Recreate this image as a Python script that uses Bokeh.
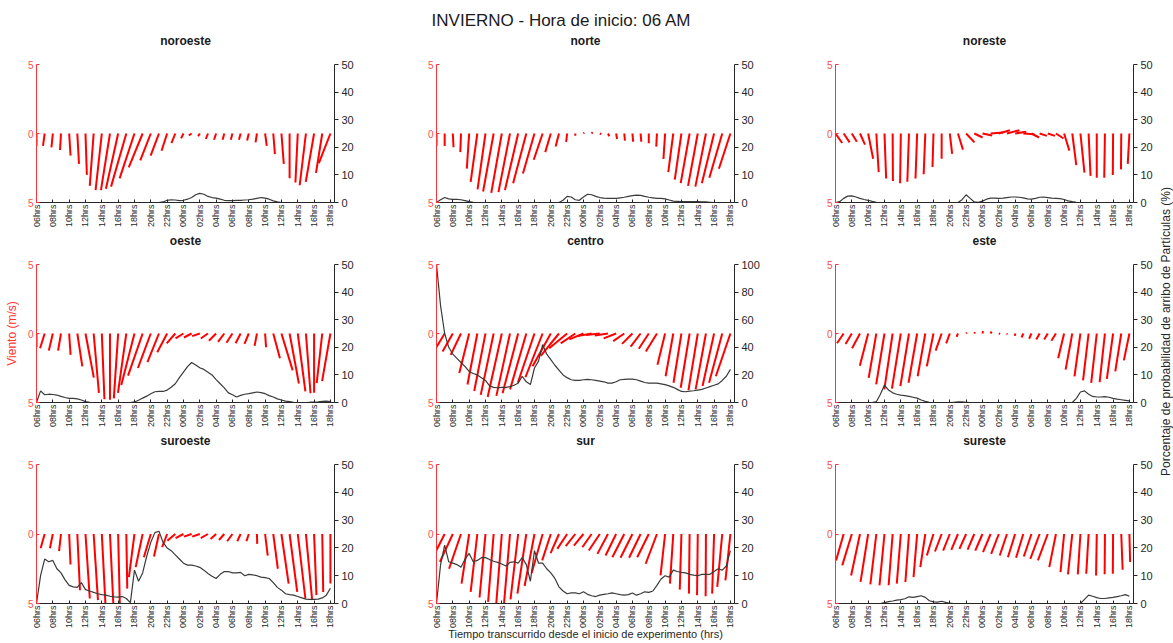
import math
import numpy as np
from bokeh.plotting import figure
from bokeh.models import Range1d, LinearAxis, FixedTicker
from bokeh.layouts import gridplot, row, column
from bokeh.embed import file_html
from bokeh.resources import INLINE

FONT = "Liberation Sans"
RED = "#ff0000"
INK = "#262626"

# hourly wind sticks (hours since 06:00) and half-hourly arrival probability
HOURS = list(range(37))
HALF_HOURS = [h / 2 for h in range(73)]
TICK_HOURS = list(range(0, 37, 2))
TICK_LABELS = ["06hrs", "08hrs", "10hrs", "12hrs", "14hrs", "16hrs", "18hrs", "20hrs", "22hrs",
               "00hrs", "02hrs", "04hrs", "06hrs", "08hrs", "10hrs", "12hrs", "14hrs", "16hrs", "18hrs"]

# wind components (m/s): U = zonal, V = meridional; P = probability (%)
NOROESTE_U = [0.0, -0.12, -0.1, -0.07, 0.1, 0.12, 0.1, -0.28, -0.45, -0.65, -0.88, -1.1, -1.07, -1.0, -0.76,
              -0.6, -0.4, -0.28, -0.17, -0.2, -0.12, -0.15, -0.15, -0.12, -0.12, -0.12, -0.12, -0.1, 0.12,
              0.12, 0.17, 0.0, -0.17, -0.45, -0.6, -0.45, -0.83]
NOROESTE_V = [-0.9, -0.9, -1.0, -1.2, -1.6, -2.2, -3.0, -3.8, -4.1, -4.1, -4.0, -3.85, -3.25, -2.45, -1.95,
              -1.6, -1.25, -0.7, -0.35, -0.15, -0.2, -0.4, -0.45, -0.45, -0.45, -0.45, -0.5, -0.65, -0.9,
              -1.5, -2.2, -3.25, -3.55, -3.75, -3.5, -2.85, -2.15]
NOROESTE_P = [0, 0, 0, 0, 0, 0, 0, 0, 0, 0, 0, 0, 0, 0, 0, 0, 0, 0, 0, 0, 0, 0, 0, 0, 0, 0, 0, 0, 0, 0, 0,
              0.2, 0.8, 1.0, 0.9, 0.7, 0.8, 1.2, 1.8, 2.8, 3.3, 3.0, 2.2, 1.8, 1.6, 1.2, 0.8, 0.7, 0.7, 0.8,
              0.8, 0.9, 1.0, 1.2, 1.5, 1.8, 1.6, 1.2, 0.6, 0.2,
              0, 0, 0, 0, 0, 0, 0, 0, 0, 0, 0, 0, 0]

NORTE_U = [0.0, 0.0, 0.05, -0.05, -0.17, -0.48, -0.57, -0.76, -0.76, -0.83, -0.95, -0.95, -0.83, -0.64, -0.4,
           -0.24, -0.07, 0.0, 0.05, 0.07, 0.1, 0.1, 0.07, 0.05, 0.05, 0.05, 0.0, -0.05, -0.12, -0.36, -0.48,
           -0.64, -0.7, -0.76, -0.88, -0.93, -0.83]
NORTE_V = [-0.9, -0.9, -1.0, -1.35, -2.55, -3.5, -4.05, -4.2, -4.3, -4.25, -4.1, -3.6, -2.9, -1.9, -1.35,
           -0.95, -0.6, -0.17, 0.07, 0.1, -0.05, -0.2, -0.4, -0.52, -0.6, -0.6, -0.7, -0.95, -1.85, -2.8,
           -3.35, -3.6, -3.8, -3.85, -3.6, -3.2, -2.55]
NORTE_P = [0, 1.0, 1.8, 1.3, 1.1, 1.1, 1.0, 0.7, 0.3, 0.1,
           0, 0, 0, 0, 0, 0, 0, 0, 0, 0, 0, 0, 0, 0, 0, 0, 0, 0, 0, 0, 0,
           0.8, 2.2, 2.0, 1.0, 0.8, 2.0, 3.0, 2.8, 2.2, 1.8, 1.6, 1.5, 1.5, 1.5, 1.7, 1.9, 2.2, 2.5, 2.7,
           2.6, 2.2, 1.9, 1.7, 1.5, 1.5, 1.3, 0.9, 0.5, 0.4, 0.3, 0.3, 0.3, 0.3, 0.3, 0.2, 0.2, 0.1,
           0, 0, 0, 0, 0]

NORESTE_U = [0.48, 0.43, 0.36, 0.36, 0.36, 0.17, 0.12, 0.02, -0.05, -0.12, -0.12, -0.12, -0.07, 0.0, 0.17,
             0.36, 0.6, 0.6, 0.7, 0.9, 0.8, 0.9, 0.8, 0.8, 0.55, 0.52, 0.52, 0.55, 0.38, 0.29, 0.29, 0.14,
             0.0, -0.05, -0.02, -0.02, -0.12]
NORESTE_V = [-0.69, -0.64, -0.6, -0.8, -1.83, -2.8, -3.26, -3.45, -3.6, -3.5, -3.26, -2.95, -2.43, -1.83,
             -1.48, -1.17, -0.64, -0.29, -0.15, 0.07, 0.24, 0.24, 0.12, -0.05, -0.29, -0.17, -0.17, -0.36,
             -1.24, -2.3, -2.83, -3.07, -3.2, -3.2, -3.0, -2.6, -2.2]
NORESTE_P = [0, 0.3, 1.5, 2.3, 2.4, 2.0, 1.5, 1.1, 0.8, 0.4, 0.1,
             0, 0, 0, 0, 0, 0, 0, 0, 0, 0, 0, 0, 0, 0, 0, 0, 0, 0, 0, 0,
             1.0, 2.8, 1.5, 0.2, 0.1, 0.5, 1.2, 1.6, 1.6, 1.5, 1.6, 1.8, 2.0, 2.0, 1.9, 1.7, 1.3, 1.2,
             1.5, 1.9, 2.0, 1.8, 1.6, 1.5, 1.4, 1.1, 0.6, 0.3, 0.1,
             0, 0, 0, 0, 0, 0, 0, 0, 0, 0, 0, 0, 0]

OESTE_U = [0.0, -0.33, -0.29, -0.21, 0.1, 0.36, 0.6, 0.38, 0.19, 0.0, -0.31, -0.6, -0.95, -1.05, -0.93,
           -0.83, -0.71, -0.62, -0.57, -0.55, -0.55, -0.52, -0.52, -0.45, -0.43, -0.36, -0.31, -0.17, 0.07,
           0.48, 0.81, 0.67, 0.55, 0.33, 0.0, -0.4, -0.6]
OESTE_V = [-1.0, -1.07, -1.24, -1.24, -1.55, -2.38, -3.2, -4.3, -4.76, -4.8, -4.7, -4.3, -3.74, -3.05, -2.5,
           -2.07, -1.36, -0.71, -0.36, -0.29, -0.19, -0.36, -0.52, -0.6, -0.67, -0.71, -0.76, -0.9, -1.0,
           -1.79, -2.67, -3.62, -4.2, -4.33, -4.29, -3.6, -3.45]
OESTE_P = [0, 4.2, 2.8, 3.0, 2.9, 2.7, 2.2, 1.8, 1.5, 1.5, 1.3, 0.9, 0.3, 0.1,
           0, 0, 0, 0, 0, 0, 0, 0, 0, 0,
           0.2, 0.8, 1.6, 2.3, 3.2, 3.9, 4.0, 4.0, 4.5, 5.5, 6.8, 9.0, 11.0, 13.0, 14.5, 13.6, 12.6, 12.0,
           11.0, 10.0, 8.3, 6.8, 5.3, 3.5, 2.8, 2.0, 2.6, 3.0, 3.2, 3.5, 3.8, 3.6, 3.2, 2.5, 2.0, 1.3,
           0.9, 0.5, 0.3, 0.1,
           0, 0, 0, 0.1, 0.1, 0.2, 0.4, 0.5, 0.3]

CENTRO_U = [-0.6, -0.64, -0.74, -0.74, -0.71, -0.71, -0.81, -0.93, -1.02, -0.98, -1.12, -1.17, -1.2, -1.24,
            -1.31, -1.31, -1.29, -1.05, -1.02, -1.02, -1.0, -0.95, -0.9, -0.8, -0.75, -0.72, -0.72, -0.8,
            -0.55, -0.55, -0.57, -0.64, -0.67, -0.74, -0.83, -0.95, -1.05]
CENTRO_V = [-1.0, -1.07, -1.31, -1.55, -2.86, -3.7, -4.17, -4.45, -4.6, -4.52, -4.33, -4.05, -3.57, -3.17,
            -2.38, -1.62, -1.07, -0.71, -0.43, -0.19, -0.1, -0.14, -0.35, -0.55, -0.75, -0.95, -1.1, -1.3,
            -2.26, -3.1, -3.57, -3.93, -4.1, -4.05, -3.8, -3.57, -3.1]
CENTRO_P = [100, 70, 50, 40, 35, 32, 29, 26, 22.5, 21, 20, 18, 16, 12, 11, 10.7, 11, 11, 11.5, 12.5, 14,
            19, 15, 13, 25, 30, 42, 35, 31, 27, 23.5, 20, 18, 16.5, 16, 16, 16.5, 16.7, 16.5, 16, 15.5,
            15, 14, 14, 15, 16.5, 16.8, 17, 17, 16.5, 15.5, 14.5, 14, 14, 14, 13.5, 13, 12, 11, 9.5, 8,
            7.8, 8.3, 8.5, 9, 9.5, 10.5, 11.5, 12.5, 13.5, 16, 19, 24]

ESTE_U = [-0.3, -0.48, -0.45, -0.57, -0.6, -0.55, -0.6, -0.6, -0.64, -0.62, -0.62, -0.55, -0.48, -0.43,
          -0.26, -0.1, 0.05, 0.05, 0.05, 0.07, 0.1, 0.02, -0.02, -0.12, -0.17, -0.24, -0.26, -0.33, -0.43,
          -0.48, -0.43, -0.4, -0.4, -0.38, -0.45, -0.43, -0.4]
ESTE_V = [-0.7, -0.71, -0.76, -1.07, -2.33, -3.21, -3.69, -4.05, -4.0, -3.81, -3.57, -3.1, -2.38, -1.24,
          -0.71, -0.24, 0.07, 0.1, 0.17, 0.14, -0.03, -0.07, -0.17, -0.29, -0.38, -0.43, -0.43, -0.52,
          -1.79, -2.62, -3.1, -3.4, -3.57, -3.52, -3.29, -2.74, -1.95]
ESTE_P = [0, 0, 0, 0, 0, 0, 0, 0, 0, 0,
          0.3, 3.0, 6.3, 4.5, 3.5, 3.0, 2.7, 2.5, 2.2, 1.9, 1.6, 0.9, 0.4, 0.1,
          0, 0, 0, 0, 0, 0.1, 0.2, 0.2, 0.1,
          0, 0, 0, 0, 0, 0, 0, 0, 0, 0, 0, 0, 0, 0, 0, 0, 0, 0, 0, 0, 0, 0, 0, 0, 0, 0,
          1.5, 3.8, 4.2, 3.0, 2.2, 2.0, 2.0, 2.1, 1.9, 1.5, 1.2, 1.0, 0.8, 0.6]

SUROESTE_U = [-0.2, -0.29, -0.21, -0.14, 0.1, 0.19, 0.31, 0.31, 0.26, 0.24, 0.12, 0.07, -0.4, -0.5, -0.5,
              -0.36, -0.36, -0.57, -0.57, -0.55, -0.55, -0.52, -0.4, -0.38, -0.38, -0.24, -0.17, 0.02, 0.19,
              0.33, 0.52, 0.55, 0.55, 0.45, 0.17, 0.07, 0.0]
SUROESTE_V = [-1.0, -1.02, -1.02, -1.24, -2.19, -4.05, -4.64, -4.76, -5.0, -5.0, -5.0, -3.93, -3.1, -2.38,
              -1.67, -1.62, -0.95, -0.48, -0.29, -0.19, -0.19, -0.29, -0.36, -0.43, -0.52, -0.52, -0.52,
              -0.71, -1.55, -2.5, -3.57, -4.17, -4.64, -4.76, -4.4, -4.17, -3.57]
SUROESTE_P = [0, 10, 16, 15, 15.5, 12.5, 11, 8.5, 6.5, 6, 5.8, 7.5, 5, 4.5, 4, 3.5, 3.2, 3, 2.6, 2.4, 2.3,
              2.5, 1.8, 0.3, 12, 8, 11, 17, 22, 25.5, 26, 22, 20, 19, 17.5, 16, 14.5, 13.8, 13.8, 13.5, 13,
              12, 10.8, 9.8, 9, 10.5, 11.5, 11.5, 11, 11, 11.2, 10, 10.5, 10.3, 10, 9.5, 9.3, 9, 7.5, 5.8,
              4.8, 3.5, 3.2, 3, 2.5, 2, 1.6, 1.5, 1.5, 1.6, 2.0, 3, 5.5]

SUR_U = [-0.6, -0.64, -0.93, -0.86, -0.55, -0.48, -0.43, -0.4, -0.4, -0.43, -0.55, -0.64, -0.71, -0.79,
         -0.62, -0.6, -0.71, -0.69, -0.69, -0.67, -0.79, -0.76, -0.76, -0.86, -0.86, -0.83, -0.83, -0.81,
         -0.33, -0.24, -0.12, -0.05, -0.05, -0.02, -0.14, -0.36, -0.36]
SUR_V = [-1.0, -1.26, -2.0, -2.5, -3.57, -4.17, -4.57, -4.88, -5.0, -5.0, -4.7, -4.29, -3.74, -2.81, -1.9,
         -1.38, -1.07, -0.88, -0.83, -0.95, -1.19, -1.43, -1.55, -1.67, -1.71, -1.71, -1.67, -2.14, -2.98,
         -3.57, -4.0, -4.29, -4.4, -4.48, -4.29, -3.81, -3.33]
SUR_P = [0, 14, 21, 15, 14.5, 14, 13, 16, 18, 15, 15.5, 16.5, 16.5, 15.8, 15.2, 14.8, 14.2, 13.5, 14.8, 15,
         14.5, 16.5, 14, 8, 19, 14.5, 14.5, 12.5, 11, 9, 6, 4.5, 3.5, 3.8, 3.8, 3.5, 4.2, 3.3, 2.8, 2.5, 3,
         3.3, 3.5, 3.8, 3.5, 3.2, 3, 3.2, 3.8, 3, 3.5, 4.2, 4, 4.5, 6.5, 8.8, 10, 9.5, 12, 11.5, 11.2, 11,
         10.5, 10.2, 10, 10.5, 10.5, 10.5, 11.5, 12.5, 12, 13.5, 19]

SURESTE_U = [-0.5, -0.55, -0.69, -0.64, -0.55, -0.43, -0.36, -0.29, -0.29, -0.26, -0.26, -0.36, -0.48, -0.48,
             -0.48, -0.48, -0.48, -0.48, -0.52, -0.55, -0.55, -0.52, -0.52, -0.52, -0.55, -0.67, -0.71, -0.48,
             -0.26, -0.31, -0.19, -0.17, -0.05, -0.02, -0.02, 0.1, 0.05]
SURESTE_V = [-0.9, -1.9, -2.26, -2.98, -3.45, -3.62, -3.69, -3.69, -3.57, -3.45, -3.1, -2.38, -1.55, -1.26,
             -1.19, -1.14, -1.07, -1.12, -1.19, -1.31, -1.43, -1.55, -1.67, -1.71, -1.62, -1.79, -1.9, -2.38,
             -2.74, -2.9, -2.9, -2.86, -2.98, -2.9, -2.86, -2.57, -2.02]
SURESTE_P = [0, 0, 0, 0, 0, 0, 0, 0, 0, 0, 0, 0,
             0.3, 0.7, 0.9, 1.2, 1.4, 1.7, 2.4, 2.2, 2.5, 2.8, 2.2, 1.0, 0.6, 0.5, 0.8, 0.4, 0.1,
             0, 0, 0, 0, 0, 0, 0, 0, 0, 0, 0, 0, 0, 0, 0, 0, 0, 0, 0, 0, 0, 0, 0, 0, 0, 0, 0, 0, 0, 0, 0, 0,
             1.5, 3.0, 2.6, 2.1, 1.8, 1.8, 2.0, 2.2, 2.5, 2.8, 3.2, 2.6]

STATIONS = [
    [("noroeste", NOROESTE_U, NOROESTE_V, NOROESTE_P, 50),
     ("norte", NORTE_U, NORTE_V, NORTE_P, 50),
     ("noreste", NORESTE_U, NORESTE_V, NORESTE_P, 50)],
    [("oeste", OESTE_U, OESTE_V, OESTE_P, 50),
     ("centro", CENTRO_U, CENTRO_V, CENTRO_P, 100),
     ("este", ESTE_U, ESTE_V, ESTE_P, 50)],
    [("suroeste", SUROESTE_U, SUROESTE_V, SUROESTE_P, 50),
     ("sur", SUR_U, SUR_V, SUR_P, 50),
     ("sureste", SURESTE_U, SURESTE_V, SURESTE_P, 50)],
]
PCT_TICKS = {50: [0, 10, 20, 30, 40, 50], 100: [0, 20, 40, 60, 80, 100]}

MAIN_TITLE = "INVIERNO - Hora de inicio: 06 AM"
WIND_LABEL = "Viento (m/s)"
PCT_LABEL = "Porcentaje de probabilidad de arribo de Partículas (%)"
TIME_LABEL = "Tiempo transcurrido desde el inicio de experimento (hrs)"

# grid geometry (pixels)
COL_WIDTH = [400, 400, 355]
COL_LEFT = [36, 36, 35]
COL_RIGHT = [66, 66, 21]
ROW_HEIGHT = [200, 200, 213]
ROW_TOP = [33, 33, 33]
ROW_BOTTOM = [26, 27, 40]
HEADER_HEIGHT = 30
STRIP_WIDTH = 18
X_END = 36.5
STICK_SCALE = 1.7  # hours of the time axis per m/s of zonal wind


def bare_axis(text, size, style, standoff, color="#1a1a1a"):
    """An axis with no line, ticks or tick labels: only its label is drawn."""
    return LinearAxis(ticker=FixedTicker(ticks=[]), axis_label=text,
                      axis_label_standoff=standoff, axis_label_text_font=FONT,
                      axis_label_text_font_size=size, axis_label_text_font_style=style,
                      axis_label_text_color=color, axis_line_color=None,
                      major_tick_in=0, major_tick_out=0, minor_tick_in=0, minor_tick_out=0,
                      major_tick_line_color=None, minor_tick_line_color=None,
                      major_label_standoff=0)


def build_panel(r, c, name, u, v, pct, pct_max):
    p = figure(width=COL_WIDTH[c], height=ROW_HEIGHT[r],
               x_range=Range1d(0, X_END), y_range=Range1d(-5, 5),
               output_backend="svg", toolbar_location=None, tools="",
               min_border_left=COL_LEFT[c], min_border_right=COL_RIGHT[c],
               min_border_top=ROW_TOP[r], min_border_bottom=ROW_BOTTOM[r])
    p.extra_y_ranges = {"pct": Range1d(0, pct_max)}
    p.outline_line_color = None
    p.xgrid.visible = False
    p.ygrid.visible = False
    p.background_fill_color = "white"
    p.border_fill_color = "white"

    xa = p.xaxis[0]
    xa.ticker = FixedTicker(ticks=TICK_HOURS)
    xa.major_label_overrides = {h: lab for h, lab in zip(TICK_HOURS, TICK_LABELS)}
    xa.major_label_orientation = math.pi / 2
    xa.major_label_standoff = 2
    xa.major_label_text_font = FONT
    xa.major_label_text_font_size = "9px"
    xa.major_label_text_color = INK
    xa.axis_line_color = INK
    xa.major_tick_in = 3
    xa.major_tick_out = 0
    xa.major_tick_line_color = INK
    xa.minor_tick_line_color = None

    ya = p.yaxis[0]
    ya.ticker = FixedTicker(ticks=[-5, 0, 5])
    ya.major_label_overrides = {-5: "5"}
    ya.major_label_standoff = 3
    ya.major_label_text_font = FONT
    ya.major_label_text_font_size = "10px"
    ya.major_label_text_color = "#ff4d4d"
    ya.axis_line_color = "#ff3333"
    ya.major_tick_in = 3
    ya.major_tick_out = 0
    ya.major_tick_line_color = "#ff3333"
    ya.minor_tick_line_color = None

    ra = LinearAxis(y_range_name="pct", ticker=FixedTicker(ticks=PCT_TICKS[pct_max]))
    ra.major_label_standoff = 3
    ra.major_label_text_font = FONT
    ra.major_label_text_font_size = "11px"
    ra.major_label_text_color = INK
    ra.axis_line_color = INK
    ra.major_tick_in = 0
    ra.major_tick_out = 4
    ra.major_tick_line_color = INK
    ra.minor_tick_line_color = None
    p.add_layout(ra, "right")

    # wind sticks from the zero line, then the arrival-probability curve
    x0 = np.array(HOURS, dtype=float)
    x1 = x0 + np.array(u) * STICK_SCALE
    p.segment(x0=x0, y0=np.zeros(len(HOURS)), x1=x1, y1=np.array(v),
              line_color=RED, line_width=2)
    p.line(HALF_HOURS, pct, y_range_name="pct", line_color="#3a3a3a", line_width=1.2)

    # station name above the frame
    p.add_layout(bare_axis(name, "12px", "bold", 17), "above")
    return p, xa, ya


rows = []
for r, station_row in enumerate(STATIONS):
    row_figs = []
    for c, (name, u, v, pct, pmax) in enumerate(station_row):
        p, xa, ya = build_panel(r, c, name, u, v, pct, pmax)
        if r == 1 and c == 0:
            ya.axis_label = WIND_LABEL
            ya.axis_label_text_font = FONT
            ya.axis_label_text_font_size = "12px"
            ya.axis_label_text_font_style = "normal"
            ya.axis_label_text_color = "#ff3333"
            ya.axis_label_standoff = 6
        if r == 2 and c == 1:
            xa.axis_label = TIME_LABEL
            xa.axis_label_text_font = FONT
            xa.axis_label_text_font_size = "11px"
            xa.axis_label_text_font_style = "normal"
            xa.axis_label_text_color = INK
            xa.axis_label_standoff = -3
        row_figs.append(p)
    rows.append(row_figs)

grid = gridplot(rows, toolbar_location=None)

# header band carrying the overall title (centred at x = 561 px)
grid_width = sum(COL_WIDTH)
header = figure(width=grid_width, height=HEADER_HEIGHT, x_range=Range1d(0, 1), y_range=Range1d(0, 1),
                output_backend="svg", toolbar_location=None, tools="",
                x_axis_location=None, y_axis_location=None,
                min_border_left=0, min_border_right=grid_width - 2 * 561,
                min_border_top=29, min_border_bottom=0)
header.outline_line_color = None
header.grid.visible = False
header.add_layout(bare_axis(MAIN_TITLE, "17px", "normal", 0), "above")

# shared label for every right-hand (probability) axis, in a narrow strip
strip = figure(width=STRIP_WIDTH, height=HEADER_HEIGHT + sum(ROW_HEIGHT),
               x_range=Range1d(0, 1), y_range=Range1d(0, 1),
               output_backend="svg", toolbar_location=None, tools="",
               x_axis_location=None, y_axis_location=None,
               min_border_left=17, min_border_right=0, min_border_top=19, min_border_bottom=0)
strip.outline_line_color = None
strip.grid.visible = False
strip.add_layout(bare_axis(PCT_LABEL, "12px", "normal", 0, color=INK), "left")

page = row(column(header, grid), strip)

open("out.html", "w").write(file_html(page, INLINE))
